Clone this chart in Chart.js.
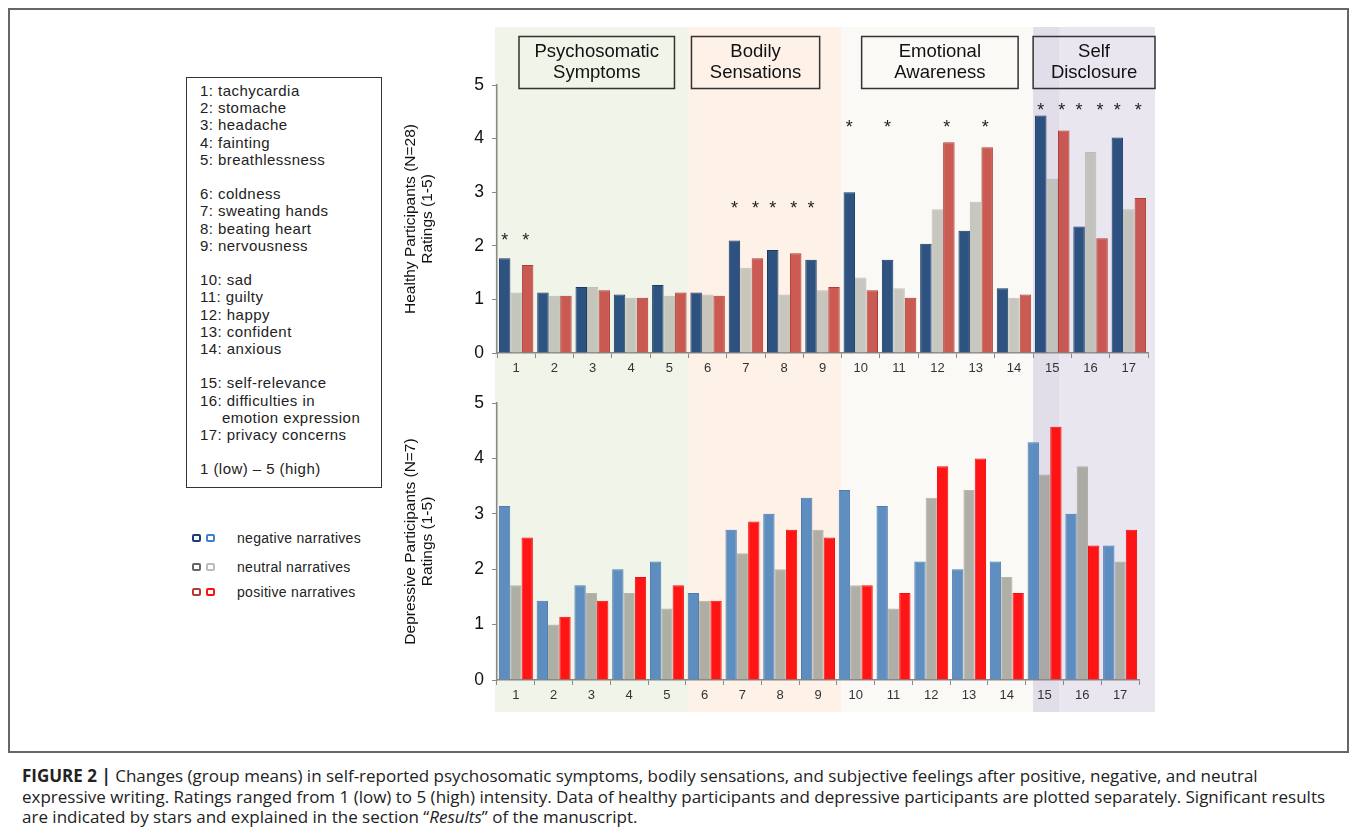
<!DOCTYPE html>
<html>
<head>
<meta charset="utf-8">
<script src="https://cdn.jsdelivr.net/npm/chart.js@4.4.0/dist/chart.umd.min.js"></script>
<style>
  body { margin:0; width:1355px; height:829px; background:#fff; position:relative; overflow:hidden;
         font-family:"Liberation Sans", Arial, sans-serif; color:#222; }
  .frame { position:absolute; left:8px; top:8px; width:1337px; height:741px; border:2px solid #666; }
  canvas { position:absolute; left:390px; }
  #healthyChart { top:20px; }
  #depressChart { top:382px; }
  .items { position:absolute; left:186px; top:77px; width:196px; height:411px; border:1px solid #333;
           font-size:15px; letter-spacing:0.45px; line-height:17.2px; padding:4px 0 0 13px; box-sizing:border-box; white-space:nowrap; }
  .items .gap { height:17.2px; }
  .items .ind { padding-left:22px; }
  .series { position:absolute; left:192px; font-size:14px; letter-spacing:0.3px; white-space:nowrap; }
  .series span.sq { display:inline-block; width:5px; height:4px; border:2.5px solid; border-radius:2px;
                    margin-right:5px; vertical-align:middle; }
  .series span.lab { margin-left:17px; vertical-align:middle; }
  .caption { position:absolute; left:22px; top:766px; font-family:"Open Sans", sans-serif; font-size:17px;
             line-height:20.5px; color:#222; white-space:nowrap; }
</style>
</head>
<body>
<div class="frame"></div>

<div class="items">
  <div>1: tachycardia</div><div>2: stomache</div><div>3: headache</div><div>4: fainting</div><div>5: breathlessness</div>
  <div class="gap"></div>
  <div>6: coldness</div><div>7: sweating hands</div><div>8: beating heart</div><div>9: nervousness</div>
  <div class="gap"></div>
  <div>10: sad</div><div>11: guilty</div><div>12: happy</div><div>13: confident</div><div>14: anxious</div>
  <div class="gap"></div>
  <div>15: self-relevance</div><div>16: difficulties in</div><div class="ind">emotion expression</div><div>17: privacy concerns</div>
  <div class="gap"></div>
  <div>1 (low) – 5 (high)</div>
</div>

<div class="series" style="top:529px"><span class="sq" style="border-color:#1d3d78"></span><span class="sq" style="border-color:#3f7fcc"></span><span class="lab">negative narratives</span></div>
<div class="series" style="top:558px"><span class="sq" style="border-color:#666"></span><span class="sq" style="border-color:#bbb"></span><span class="lab">neutral narratives</span></div>
<div class="series" style="top:583px"><span class="sq" style="border-color:#b83a36"></span><span class="sq" style="border-color:#ff1010"></span><span class="lab">positive narratives</span></div>

<canvas id="healthyChart" width="775" height="362"></canvas>
<canvas id="depressChart" width="775" height="333"></canvas>

<div class="caption">
  <b>FIGURE 2 |</b> Changes (group means) in self-reported psychosomatic symptoms, bodily sensations, and subjective feelings after positive, negative, and neutral<br>
  expressive writing. Ratings ranged from 1 (low) to 5 (high) intensity. Data of healthy participants and depressive participants are plotted separately. Significant results<br>
  are indicated by stars and explained in the section “<i>Results</i>” of the manuscript.
</div>

<script>
// ===== Data =====
const items = ['1','2','3','4','5','6','7','8','9','10','11','12','13','14','15','16','17'];

const healthyNeg = [1.77, 1.13, 1.23, 1.09, 1.27, 1.13, 2.10, 1.92, 1.74, 3.00, 1.74, 2.04, 2.28, 1.21, 4.43, 2.36, 4.02];
const healthyNeu = [1.13, 1.07, 1.23, 1.03, 1.07, 1.09, 1.59, 1.09, 1.17, 1.41, 1.21, 2.68, 2.82, 1.03, 3.25, 3.75, 2.68];
const healthyPos = [1.64, 1.07, 1.17, 1.03, 1.13, 1.07, 1.77, 1.86, 1.23, 1.17, 1.03, 3.93, 3.84, 1.09, 4.15, 2.14, 2.89];

const depressNeg = [3.14, 1.43, 1.71, 2.00, 2.14, 1.57, 2.71, 3.00, 3.29, 3.43, 3.14, 2.14, 2.00, 2.14, 4.29, 3.00, 2.43];
const depressNeu = [1.71, 1.00, 1.57, 1.57, 1.29, 1.43, 2.29, 2.00, 2.71, 1.71, 1.29, 3.29, 3.43, 1.86, 3.71, 3.86, 2.14];
const depressPos = [2.57, 1.14, 1.43, 1.86, 1.71, 1.43, 2.86, 2.71, 2.57, 1.71, 1.57, 3.86, 4.00, 1.57, 4.57, 2.43, 2.71];

const yTicks = [0, 1, 2, 3, 4, 5];

// significance stars: [item index, series index (0 neg, 1 neu, 2 pos), height on rating scale]
const healthyStars = [
  [0, 0, 2.16], [0, 2, 2.16],
  [6, 0, 2.76], [6, 2, 2.76], [7, 0, 2.76], [7, 2, 2.76], [8, 0, 2.76],
  [9, 0, 4.27], [10, 0, 4.27], [11, 2, 4.27], [12, 2, 4.27],
  [14, 0, 4.59], [14, 2, 4.59], [15, 0, 4.59], [15, 2, 4.59], [16, 0, 4.59], [16, 2, 4.59]
];

// item groups
const groupNames = [['Psychosomatic', 'Symptoms'], ['Bodily', 'Sensations'], ['Emotional', 'Awareness'], ['Self', 'Disclosure']];
const groupFirst = [0, 5, 9, 14];
const groupLast  = [4, 8, 13, 16];

// ===== Styles =====
const FONT = '"Liberation Sans", Arial, sans-serif';
const bandColors = ['#f1f5e9', '#fdf1e8', '#faf9f5', '#e9e6f0'];
const headerInset = [[22, 14], [3, 22], [20, 15], [0, 0]];

// ===== Background bands (both charts use the top chart's x scale) =====
let topChart = null;
function groupEdges(i) {
  const x = topChart.scales.x;
  const half = (x.getPixelForValue(1) - x.getPixelForValue(0)) / 2;
  const left = x.getPixelForValue(groupFirst[i]) - half;
  let right = x.getPixelForValue(groupLast[i]) + half;
  if (i === groupFirst.length - 1) right += 7;
  return [left, right];
}

const bandPlugin = {
  id: 'bands',
  beforeDraw(chart, args, opts) {
    if (!topChart) topChart = chart;
    const ctx = chart.ctx;
    ctx.save();
    groupFirst.forEach((_, i) => {
      const [l, r] = groupEdges(i);
      ctx.fillStyle = bandColors[i];
      ctx.fillRect(l - (i === 0 ? 2 : 0), opts.top, r - l + (i === 0 ? 2 : 0), opts.bottom - opts.top);
      if (i === groupFirst.length - 1) {
        ctx.fillStyle = 'rgba(120,100,140,0.06)';
        ctx.fillRect(l, opts.top, 26, opts.bottom - opts.top);
      }
    });
    ctx.restore();
  }
};

const headerPlugin = {
  id: 'headers',
  afterDraw(chart, args, opts) {
    if (!opts.show) return;
    const ctx = chart.ctx;
    ctx.save();
    groupNames.forEach((lines, i) => {
      const [l, r] = groupEdges(i);
      const bl = l + headerInset[i][0], br = r - headerInset[i][1];
      ctx.strokeStyle = '#333';
      ctx.lineWidth = 1.5;
      ctx.strokeRect(bl, 16.5, br - bl, 52);
      ctx.fillStyle = '#111';
      ctx.font = '18.5px ' + FONT;
      ctx.textAlign = 'center';
      ctx.textBaseline = 'middle';
      ctx.fillText(lines[0], (bl + br) / 2, 32);
      ctx.fillText(lines[1], (bl + br) / 2, 53);
    });
    ctx.restore();
  }
};

const starPlugin = {
  id: 'stars',
  afterDatasetsDraw(chart, args, opts) {
    if (!opts.list) return;
    const ctx = chart.ctx;
    ctx.save();
    ctx.fillStyle = '#222';
    ctx.font = '18px ' + FONT;
    ctx.textAlign = 'center';
    ctx.textBaseline = 'middle';
    opts.list.forEach(([item, series, level]) => {
      const bar = chart.getDatasetMeta(series).data[item];
      const shift = series === 2 ? -2 : 0;
      ctx.fillText('*', bar.x + shift, chart.scales.y.getPixelForValue(level) + 4);
    });
    ctx.restore();
  }
};

function makeChart(id, neg, neu, pos, colors, cfg) {
  const ds = (label, data, c) => ({
    label, data,
    backgroundColor: c[0], borderColor: c[1], borderWidth: 1, borderSkipped: 'bottom',
    categoryPercentage: 0.9, barPercentage: 1.0
  });
  return new Chart(document.getElementById(id), {
    type: 'bar',
    data: {
      labels: items,
      datasets: [
        ds('negative narratives', neg, colors[0]),
        ds('neutral narratives', neu, colors[1]),
        ds('positive narratives', pos, colors[2])
      ]
    },
    plugins: [bandPlugin, headerPlugin, starPlugin],
    options: {
      responsive: false,
      animation: false,
      layout: { padding: cfg.padding },
      plugins: {
        legend: { display: false },
        tooltip: { enabled: false },
        bands: cfg.bands,
        headers: { show: cfg.headers },
        stars: { list: cfg.stars }
      },
      scales: {
        x: {
          afterFit: s => { s.height = cfg.xHeight; },
          grid: { drawOnChartArea: false, drawTicks: true, tickLength: 5, offset: true, color: '#888' },
          border: { display: true, color: '#888', width: 1.5 },
          ticks: { color: '#333', font: { size: 13, family: FONT }, padding: 3, maxRotation: 0 }
        },
        y: {
          min: 0, max: 5,
          afterFit: s => { s.width = 107; },
          afterBuildTicks: s => { s.ticks = yTicks.map(v => ({ value: v })); },
          grid: { drawOnChartArea: false, drawTicks: true, tickLength: 5, color: '#888' },
          border: { display: true, color: '#888', width: 1.5 },
          ticks: { color: '#111', font: { size: 17.5, family: FONT }, padding: 8 },
          title: {
            display: true, text: cfg.title, color: '#111',
            font: { size: 15.5, family: FONT, lineHeight: 1.12 },
            padding: { top: 12, bottom: 0 }
          }
        }
      }
    }
  });
}

// ===== Healthy participants =====
topChart = makeChart('healthyChart', healthyNeg, healthyNeu, healthyPos, [
  ['rgba(28,68,118,0.92)', '#1c3a66'],
  ['rgba(185,186,176,0.8)', 'rgba(160,160,150,0.6)'],
  ['rgba(195,68,60,0.88)', '#b03c36']
], {
  padding: { top: 65, right: 17, bottom: 0, left: 0 },
  xHeight: 29,
  bands: { top: 7, bottom: 362 },
  headers: true,
  stars: healthyStars,
  title: ['Healthy Participants (N=28)', 'Ratings (1-5)']
});

// ===== Depressive participants =====
makeChart('depressChart', depressNeg, depressNeu, depressPos, [
  ['rgba(72,128,184,0.88)', 'rgba(60,110,170,0.9)'],
  ['rgba(150,150,140,0.75)', 'rgba(140,140,130,0.6)'],
  ['rgba(255,8,8,0.95)', '#ee1010']
], {
  padding: { top: 21, right: 26, bottom: 3, left: 0 },
  xHeight: 32,
  bands: { top: 0, bottom: 330 },
  headers: false,
  stars: null,
  title: ['Depressive Participants (N=7)', 'Ratings (1-5)']
});
</script>
</body>
</html>
